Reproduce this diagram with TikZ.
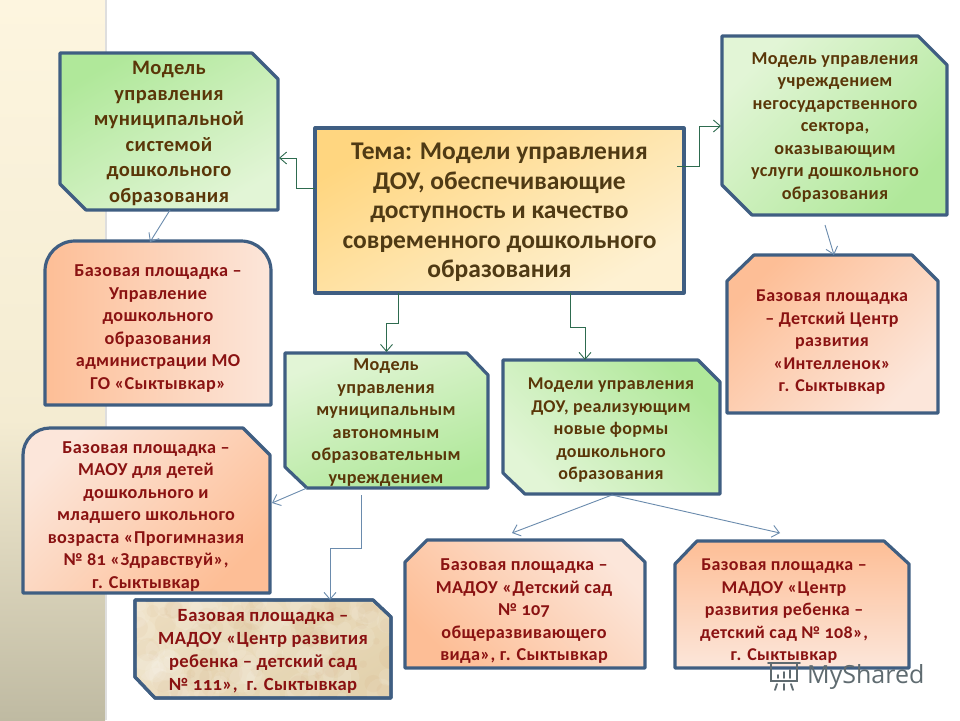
\documentclass[tikz,border=0pt]{standalone}
\usepackage{fontspec}
\setmainfont{Carlito}[Numbers=OldStyle,LetterSpace=2]
\newfontfamily\temafont{Carlito}[LetterSpace=0]
\newfontfamily\wmfont{Open Sans}
\usetikzlibrary{arrows.meta,fit}
\definecolor{edgeblue}{HTML}{3F5E82}
\definecolor{linegreen}{HTML}{2E6B4F}
\definecolor{lineblue}{HTML}{6A8BAD}
\definecolor{brownt}{HTML}{5A3608}
\definecolor{redt}{HTML}{8A1212}
\definecolor{temat}{HTML}{4F3A14}
\definecolor{gfull}{HTML}{B0E89A}
\definecolor{gpale}{HTML}{E2F5D6}
\definecolor{ofull}{HTML}{FDBE96}
\definecolor{opale}{HTML}{FCE6DA}
\definecolor{stripa}{HTML}{FDF5DF}
\definecolor{stripb}{HTML}{F4ECD2}
\definecolor{stripc}{HTML}{BFBAA2}
\definecolor{wmgray}{HTML}{5F6B70}
\definecolor{parcha}{HTML}{EEE0C4}
\definecolor{parchb}{HTML}{E3D2AE}
\definecolor{temaa}{HTML}{FFD680}
\definecolor{temab}{HTML}{FEF1D2}
\tikzset{
  shapebox/.style={draw=edgeblue,line width=3.2pt,line join=round},
  slot/.style={inner sep=0pt,outer sep=0pt},
  gtext/.style={text=brownt,align=center,inner sep=0pt,yshift=-1.5pt,font=\fontsize{18.2}{22.5}\selectfont\bfseries},
  rtext/.style={text=redt,align=center,inner sep=0pt,yshift=-1.5pt,font=\fontsize{18.2}{22.5}\selectfont\bfseries},
  greenlink/.style={draw=linegreen,line width=0.9pt,-{Straight Barb[length=7pt,width=12pt]}},
  bluelink/.style={draw=lineblue,line width=0.9pt,-{Straight Barb[length=7pt,width=12pt]}},
}
\begin{document}
\begin{tikzpicture}[x=1pt,y=-1pt]
\useasboundingbox (0,0) rectangle (960,720);
\fill[white] (0,0) rectangle (960,720);
% left strip
\shade[top color=stripa,bottom color=stripb] (0,0) rectangle (105,420);
\shade[top color=stripb,bottom color=stripc] (0,420) rectangle (105,720);
\fill[black!13] (105,0) rectangle (107,720);

% boxes
\draw[shapebox,top color=gfull,bottom color=gpale,shading angle=30]
  (60,53) -- (252,53) -- (278,79) -- (278,210) -- (86,210) -- (60,184) -- cycle;
\node[slot,fit={(60,53)(278,210)}] (A) {};
\node[gtext,font=\fontsize{20.5}{25.6}\selectfont\bfseries] (At) at (169,132) {Модель\\управления\\муниципальной\\системой\\дошкольного\\образования};

\draw[shapebox,top color=ofull,bottom color=opale,shading angle=90]
  (45,405) -- (45,271) arc[start angle=180,end angle=270,radius=30] -- (241,241) arc[start angle=270,end angle=360,radius=30] -- (271,405) -- cycle;
\node[slot,fit={(45,241)(271,405)}] (B) {};
\node[rtext] (Bt) at (158,327) {Базовая площадка –\\Управление\\дошкольного\\образования\\администрации МО\\ГО «Сыктывкар»};

\draw[shapebox,top color=opale,bottom color=ofull,shading angle=45]
  (23,593) -- (23,455) arc[start angle=180,end angle=270,radius=27] -- (243,428) -- (270,455) -- (270,593) -- cycle;
\node[slot,fit={(23,428)(270,593)}] (C) {};
\node[rtext] (Ct) at (146,515) {Базовая площадка –\\МАОУ для детей\\дошкольного и\\младшего школьного\\возраста «Прогимназия\\№ 81 «Здравствуй»,\\г. Сыктывкар};

\draw[shapebox,top color=parcha,bottom color=parchb,shading angle=30]
  (135,600) -- (373,600) -- (391,617) -- (391,698) -- (155,698) -- (135,677) -- cycle;
\begin{scope}
\clip (135,600) -- (373,600) -- (391,617) -- (391,698) -- (155,698) -- (135,677) -- cycle;
\pgfmathsetseed{7}
\foreach \i in {1,...,70}{
  \pgfmathsetmacro{\px}{135+rnd*256}
  \pgfmathsetmacro{\py}{600+rnd*98}
  \pgfmathsetmacro{\pr}{5+rnd*13}
  \fill[white,opacity=0.10] (\px,\py) circle[radius=\pr];
  \pgfmathsetmacro{\qx}{135+rnd*256}
  \pgfmathsetmacro{\qy}{600+rnd*98}
  \pgfmathsetmacro{\qr}{3+rnd*9}
  \fill[brown,opacity=0.05] (\qx,\qy) circle[radius=\qr];
}
\end{scope}
\draw[shapebox] (135,600) -- (373,600) -- (391,617) -- (391,698) -- (155,698) -- (135,677) -- cycle;
\node[slot,fit={(135,600)(391,698)}] (D) {};
\node[rtext,font=\fontsize{18.6}{23}\selectfont\bfseries] (Dt) at (263,650) {Базовая площадка –\\МАДОУ «Центр развития\\ребенка – детский сад\\№ 111»,~ г. Сыктывкар};

\draw[shapebox,top color=gpale,bottom color=gfull,shading angle=20]
  (285,353) -- (467,353) -- (488,375) -- (488,488) -- (307,488) -- (285,467) -- cycle;
\node[slot,fit={(285,353)(488,488)}] (E) {};
\node[gtext] (Et) at (386,421) {Модель\\управления\\муниципальным\\автономным\\образовательным\\учреждением};

\draw[shapebox,top color=gfull,bottom color=gpale,shading angle=-45]
  (503,360) -- (698,360) -- (720,382) -- (720,494) -- (525,494) -- (503,473) -- cycle;
\node[slot,fit={(503,360)(720,494)}] (F) {};
\node[gtext,font=\fontsize{18}{22.5}\selectfont\bfseries] (Ft) at (611,429) {Модели управления\\ДОУ, реализующим\\новые формы\\дошкольного\\образования};

\draw[shapebox,top color=temaa,bottom color=temab,shading angle=30]
  (315,128) rectangle (684,293);
\node[slot,fit={(315,128)(684,293)}] (T) {};
\node[text=temat,align=center,inner sep=0pt,yshift=-1.5pt,font=\temafont\fontsize{25.5}{29.5}\selectfont\bfseries] (Tt) at (499.5,211) {Тема: Модели управления\\ДОУ, обеспечивающие\\доступность и качество\\современного дошкольного\\образования};

\draw[shapebox,top color=gpale,bottom color=gfull,shading angle=45]
  (722,36) -- (918,36) -- (947,65) -- (947,215) -- (752,215) -- (722,185) -- cycle;
\node[slot,fit={(722,36)(947,215)}] (G) {};
\node[gtext] (Gt) at (835,126) {Модель управления\\учреждением\\негосударственного\\сектора,\\оказывающим\\услуги дошкольного\\образования};

\draw[shapebox,top color=ofull,bottom color=opale,shading angle=45]
  (727,281) -- (754,255) -- (912,255) -- (938,281) -- (938,413) -- (727,413) -- cycle;
\node[slot,fit={(727,255)(938,413)}] (H) {};
\node[rtext,font=\fontsize{18}{22.5}\selectfont\bfseries] (Ht) at (832,341) {Базовая площадка\\– Детский Центр\\развития\\«Интелленок»\\г. Сыктывкар};

\draw[shapebox,top color=opale,bottom color=ofull,shading angle=-45]
  (405,562) -- (427,540) -- (622,540) -- (645,562) -- (645,668) -- (405,668) -- cycle;
\node[slot,fit={(405,540)(645,668)}] (I) {};
\node[rtext] (It) at (524,610) {Базовая площадка –\\МАДОУ «Детский сад\\№ 107\\общеразвивающего\\вида», г. Сыктывкар};

\draw[shapebox,top color=ofull,bottom color=opale]
  (675,564) -- (697,541) -- (884,541) -- (909,564) -- (909,668) -- (675,668) -- cycle;
\node[slot,fit={(675,541)(909,668)}] (J) {};
\node[rtext,font=\fontsize{18}{22.5}\selectfont\bfseries] (Jt) at (784,610) {Базовая площадка –\\МАДОУ «Центр\\развития ребенка –\\детский сад № 108»,\\г. Сыктывкар};

% connectors
\draw[greenlink] ([yshift=22.5pt]T.west) -- ++(-19,0) |- ([xshift=1pt,yshift=-26.5pt]A.east);
\draw[bluelink] ([xshift=1pt]A.south) -- ([xshift=-8pt,yshift=-1pt]B.north);
\draw[greenlink] ([xshift=-7pt,yshift=44.5pt]T.east) -- ++(22,0) |- ([xshift=-1pt,yshift=-0.5pt]G.west);
\draw[bluelink] ([xshift=-9.5pt,yshift=-10pt]G.south) -- ([xshift=1.5pt]H.north);
\draw[greenlink] ([xshift=-101.5pt]T.south) -- ++(0,30) -| ([yshift=1pt]E.north);
\draw[greenlink] ([xshift=70.5pt]T.south) -- ++(0,34) -| ([xshift=-26.5pt,yshift=0pt]F.north);
\path (E.south west) ++(22,0) coordinate (eout);
\draw[bluelink] (eout) -- ([xshift=2pt,yshift=7.5pt]C.east);
\draw[bluelink] ([xshift=-25.5pt,yshift=-7pt]E.south) -- ++(0,53) -| ([xshift=67pt]D.north);
\path (F.south) ++(0.5,1) coordinate (fout);
\draw[bluelink] (fout) -- ([xshift=-13pt,yshift=7pt]I.north);
\draw[bluelink] (fout) -- ([xshift=-12pt,yshift=8pt]J.north);

% watermark
\node[anchor=base west,inner sep=0pt,text=wmgray,font=\wmfont\fontsize{25}{25}\selectfont] (wm) at (807,683) {MyShared};
\draw[wmgray,line width=1.8pt,line cap=round]
  (768,663) -- (800,663)
  (771,664) -- (771,681) -- (797,681) -- (797,664)
  (777,684) -- (775,690) (784,684) -- (784,690) (791,684) -- (793,690)
  (778,678) -- (778,675) (784,678) -- (784,672) (790,678) -- (790,670);
\end{tikzpicture}
\end{document}
